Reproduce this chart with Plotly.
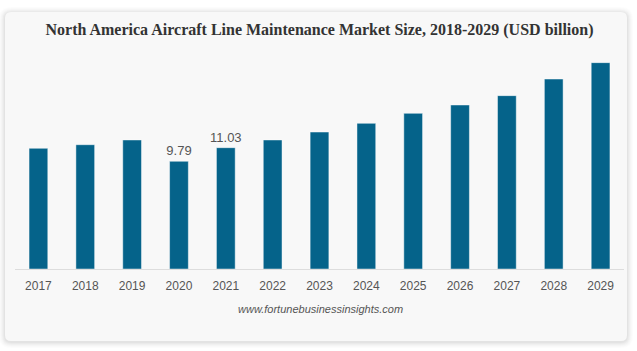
import plotly.graph_objects as go

years = ["2017", "2018", "2019", "2020", "2021", "2022", "2023", "2024",
         "2025", "2026", "2027", "2028", "2029"]
values = [10.97, 11.30, 11.73, 9.79, 11.03, 11.73, 12.45, 13.24,
          14.15, 14.91, 15.76, 17.27, 18.76]
labels = ["", "", "", "9.79", "11.03", "", "", "", "", "", "", "", ""]

W, H = 637, 351
ML, MR, MT, MB = 15, 13, 50, 82
PW, PH = W - ML - MR, H - MT - MB


def px(x):
    return (x - ML) / PW


def py(y):
    return (H - MB - y) / PH


def rrect(x0, y0, x1, y1, r):
    return (f"M {px(x0 + r)},{py(y0)} L {px(x1 - r)},{py(y0)} "
            f"Q {px(x1)},{py(y0)} {px(x1)},{py(y0 + r)} "
            f"L {px(x1)},{py(y1 - r)} Q {px(x1)},{py(y1)} {px(x1 - r)},{py(y1)} "
            f"L {px(x0 + r)},{py(y1)} Q {px(x0)},{py(y1)} {px(x0)},{py(y1 - r)} "
            f"L {px(x0)},{py(y0 + r)} Q {px(x0)},{py(y0)} {px(x0 + r)},{py(y0)} Z")


shapes = []
for i, a in [(6, 0.01), (5, 0.012), (4, 0.015), (3, 0.018), (2, 0.022), (1, 0.028)]:
    shapes.append(dict(type="path", xref="paper", yref="paper", layer="below",
                       path=rrect(5 - i, 12 - i + 1, 627 + i, 341 + i + 1, 6 + i),
                       fillcolor=f"rgba(0,0,0,{a})", line=dict(width=0)))
shapes.append(dict(type="path", xref="paper", yref="paper", layer="below",
                   path=rrect(5, 12, 627, 341, 6),
                   fillcolor="#f8f8f8", line=dict(width=0)))

fig = go.Figure(go.Bar(
    x=years, y=values, text=labels, textposition="outside",
    constraintext="none",
    textfont=dict(family="Arial, Liberation Sans", size=13, color="#555555"),
    cliponaxis=False,
    marker=dict(color="#05638a", line=dict(color="rgba(255,255,255,0.45)", width=1)),
    hoverinfo="x+y",
))

fig.update_layout(
    width=W, height=H,
    margin=dict(l=ML, r=MR, t=MT, b=MB),
    paper_bgcolor="white",
    plot_bgcolor="rgba(0,0,0,0)",
    bargap=0.6,
    showlegend=False,
    shapes=shapes,
    title=dict(text="<b>North America Aircraft Line Maintenance Market Size, 2018-2029 (USD billion)</b>",
               x=0.5, xanchor="center", xref="paper", y=1 - 29 / H, yanchor="middle",
               font=dict(family="Liberation Serif, Times New Roman", size=16, color="#333333")),
    xaxis=dict(showline=True, linecolor="#dddddd", linewidth=1, showgrid=False,
               ticks="outside", ticklen=6, tickcolor="rgba(0,0,0,0)",
               tickfont=dict(family="Arial, Liberation Sans", size=12, color="#555555")),
    yaxis=dict(range=[0, 19.91], visible=False, showgrid=False),
    annotations=[dict(text="<i>www.fortunebusinessinsights.com</i>", xref="paper", yref="paper",
                      x=px(320), y=py(309), xanchor="center", yanchor="middle",
                      showarrow=False,
                      font=dict(family="Arial, Liberation Sans", size=11, color="#555555"))],
)

fig.write_html("out.html")
